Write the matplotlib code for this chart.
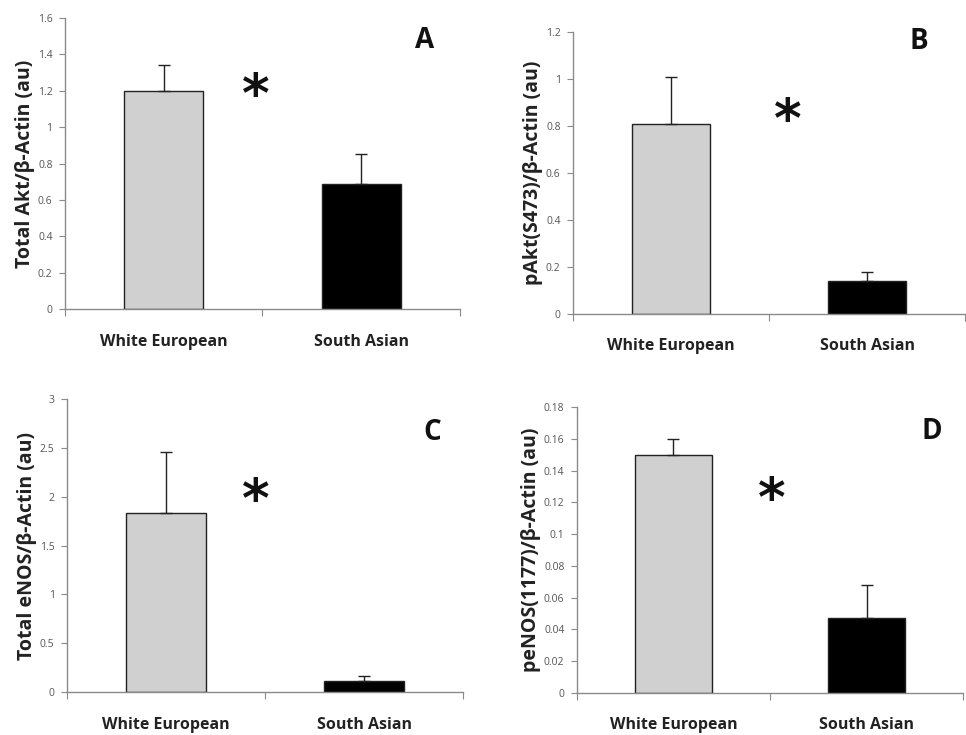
import matplotlib.pyplot as plt

# Datos de cada panel
grupos = ["White European", "South Asian"]
colores = ["#d0d0d0", "#000000"]

akt_total = [1.20, 0.685]
akt_total_err = [0.14, 0.165]

pakt = [0.81, 0.14]
pakt_err = [0.20, 0.04]

enos_total = [1.83, 0.11]
enos_total_err = [0.63, 0.05]

penos = [0.150, 0.047]
penos_err = [0.010, 0.021]

ylabels = ["Total Akt/\u03b2-Actin (au)", "pAkt(S473)/\u03b2-Actin (au)",
           "Total eNOS/\u03b2-Actin (au)", "peNOS(1177)/\u03b2-Actin (au)"]
letras = ["A", "B", "C", "D"]
ylims = [1.6, 1.2, 3.0, 0.18]
ysteps = [0.2, 0.2, 0.5, 0.02]
tick_labels = [
    ["0", "0.2", "0.4", "0.6", "0.8", "1", "1.2", "1.4", "1.6"],
    ["0", "0.2", "0.4", "0.6", "0.8", "1", "1.2"],
    ["0", "0.5", "1", "1.5", "2", "2.5", "3"],
    ["0", "0.02", "0.04", "0.06", "0.08", "0.1", "0.12", "0.14", "0.16", "0.18"],
]

# posiciones de los ejes (fracción de figura)
rects = [
    [0.0673, 0.5796, 0.4087, 0.3959],
    [0.5932, 0.5728, 0.4058, 0.3837],
    [0.0694, 0.0585, 0.4099, 0.3986],
    [0.5973, 0.0571, 0.3996, 0.3892],
]
pos_letra = [(0.911, 0.924), (0.883, 0.965), (0.922, 0.887), (0.92, 0.913)]
pos_asterisco = [(0.484, 0.73), (0.547, 0.68), (0.477, 0.65), (0.505, 0.67)]

valores = [akt_total, pakt, enos_total, penos]
errores = [akt_total_err, pakt_err, enos_total_err, penos_err]

fuente = "Open Sans"
gris_eje = "#8a8a8a"

fig = plt.figure(figsize=(9.66, 7.35), dpi=100)

for i in range(4):
    ax = fig.add_axes(rects[i])
    x = [0, 1]
    ax.bar(x, valores[i], width=0.4, color=colores, edgecolor="#222222",
           linewidth=1.0, zorder=2)
    ax.errorbar(x, valores[i], yerr=[[0, 0], errores[i]], fmt="none",
                ecolor="#222222", elinewidth=1.0, capsize=4, capthick=1.0, zorder=3)

    ax.set_xlim(-0.5, 1.5)
    ax.set_ylim(0, ylims[i])
    n = len(tick_labels[i])
    ax.set_yticks([k * ysteps[i] for k in range(n)])
    ax.set_yticklabels(tick_labels[i], fontsize=7.5, color="#555555", family=fuente)
    ax.set_xticks([-0.5, 0.5, 1.5])
    ax.set_xticklabels([])
    ax.tick_params(axis="x", direction="out", length=5, color=gris_eje)
    ax.tick_params(axis="y", direction="out", length=4, color=gris_eje, pad=5)

    for s in ["top", "right"]:
        ax.spines[s].set_visible(False)
    for s in ["left", "bottom"]:
        ax.spines[s].set_color(gris_eje)
        ax.spines[s].set_linewidth(1.0)

    for j, g in enumerate(grupos):
        ax.text(j, -0.113, g, transform=ax.get_xaxis_transform(), ha="center",
                va="center", fontsize=11.5, fontweight="bold", family=fuente,
                color="#222222")

    ax.set_ylabel(ylabels[i], fontsize=14, fontweight="bold", family=fuente,
                  color="#222222", labelpad=2)

    ax.text(pos_letra[i][0], pos_letra[i][1], letras[i], transform=ax.transAxes,
            ha="center", va="center", fontsize=20, fontweight="bold",
            family=fuente, color="#111111")
    ax.text(pos_asterisco[i][0], pos_asterisco[i][1], "*", transform=ax.transAxes,
            ha="center", va="center", fontsize=38, fontweight="bold",
            family="DejaVu Sans", color="#111111")

fig.savefig("out.png", dpi=100)
